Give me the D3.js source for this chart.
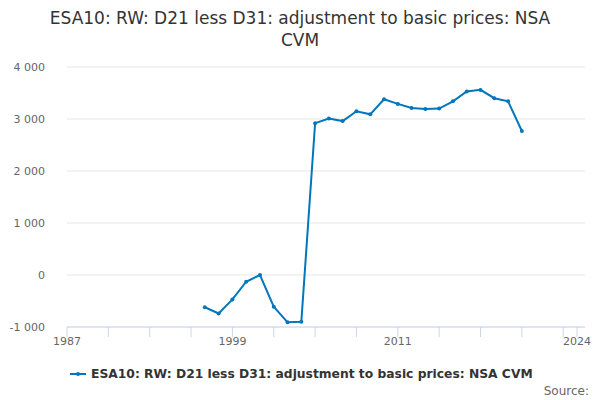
<!DOCTYPE html>
<html><head><meta charset="utf-8">
<script src="https://cdn.jsdelivr.net/npm/d3@7"></script>
<style>body{margin:0;font-family:"DejaVu Sans",sans-serif;}</style>
</head><body><svg width="600" height="400"></svg>
<script>
const years = [1997,1998,1999,2000,2001,2002,2003,2004,2005,2006,2007,2008,2009,2010,2011,2012,2013,2014,2015,2016,2017,2018,2019,2020];
const values = [-620,-740,-470,-130,0,-610,-910,-900,2920,3010,2960,3150,3090,3380,3290,3210,3190,3200,3340,3530,3560,3400,3340,2770];
const yTicks = [-1000,0,1000,2000,3000,4000];
const xLabels = [1987,1999,2011,2024];
const title = "ESA10: RW: D21 less D31: adjustment to basic prices: NSA";
const title2 = "CVM";
const color = "#0077bb";

const svg = d3.select("svg");
const x = d3.scaleLinear().domain([1987,2024]).range([67,577]);
const y = d3.scaleLinear().domain([-1000,4000]).range([327,67]);
const fmt = v => d3.format(",")(v).replace(",", " ");

svg.append("text").attr("x",300).attr("y",24).attr("text-anchor","middle")
    .style("font-size","17px").attr("fill","#333").text(title);
svg.append("text").attr("x",300).attr("y",46).attr("text-anchor","middle")
    .style("font-size","17px").attr("fill","#333").text(title2);

// grid
svg.selectAll(".grid").data(yTicks).join("line")
    .attr("x1",67).attr("x2",585).attr("y1",d=>y(d)).attr("y2",d=>y(d))
    .attr("stroke","#e6e6e6");
svg.selectAll(".yl").data(yTicks).join("text")
    .attr("x",45).attr("y",d=>y(d)+4).attr("text-anchor","end")
    .style("font-size","11px").attr("fill","#666").text(d=>d<0?"-"+fmt(-d):fmt(d));

// x axis
svg.append("line").attr("x1",67).attr("x2",585).attr("y1",327).attr("y2",327).attr("stroke","#ccd6eb");
const ticks = d3.range(1987,2025,3).concat([2024]);
svg.selectAll(".xt").data(ticks).join("line")
    .attr("x1",d=>x(d)).attr("x2",d=>x(d)).attr("y1",327).attr("y2",337).attr("stroke","#ccd6eb");
svg.selectAll(".xl").data(xLabels).join("text")
    .attr("x",d=>x(d)).attr("y",345).attr("text-anchor","middle")
    .style("font-size","11px").attr("fill","#666").text(d=>d);

const data = years.map((yr,i)=>({yr,v:values[i]}));
svg.append("path").datum(data)
    .attr("d",d3.line().x(d=>x(d.yr)).y(d=>y(d.v)))
    .attr("fill","none").attr("stroke",color).attr("stroke-width",2);
svg.selectAll(".pt").data(data).join("circle")
    .attr("cx",d=>x(d.yr)).attr("cy",d=>y(d.v)).attr("r",2).attr("fill",color);

// legend
svg.append("line").attr("x1",70).attr("x2",86).attr("y1",374).attr("y2",374).attr("stroke",color).attr("stroke-width",2);
svg.append("circle").attr("cx",78).attr("cy",374).attr("r",2).attr("fill",color);
svg.append("text").attr("x",91).attr("y",378).style("font-size","12.3px").style("font-weight","bold")
    .attr("fill","#333").text(title + " " + title2);
svg.append("text").attr("x",589).attr("y",395).attr("text-anchor","end")
    .style("font-size","12px").attr("fill","#666").text("Source:");
</script></body></html>
